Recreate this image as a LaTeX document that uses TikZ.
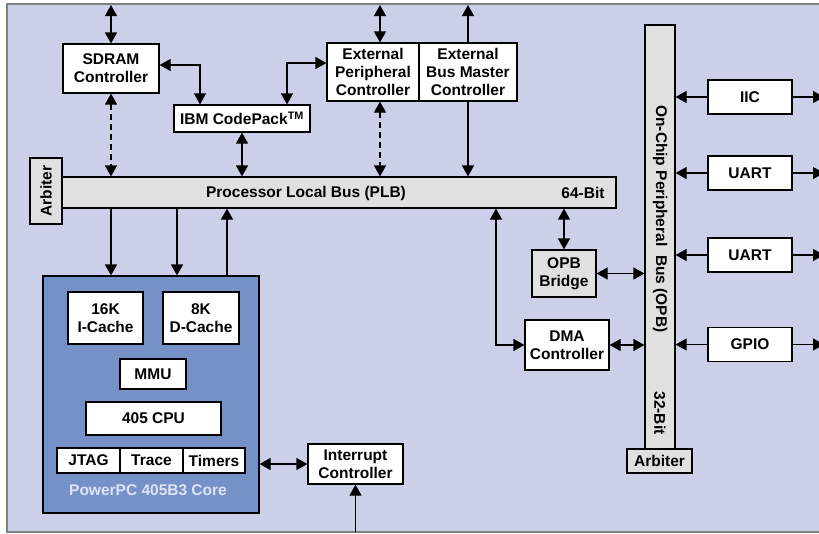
\documentclass[tikz,border=0pt]{standalone}
\usepackage{fontspec}
\setmainfont{Liberation Sans}
\usetikzlibrary{arrows.meta}
\definecolor{panel}{RGB}{203,208,232}
\definecolor{corefill}{RGB}{118,145,200}
\definecolor{busgray}{RGB}{224,224,224}
\definecolor{coretext}{RGB}{222,228,248}
\begin{document}
\begin{tikzpicture}[x=1pt, y=-1pt, line width=1.2pt,
    >={Triangle[length=11pt,width=12pt]},
    font=\fontsize{15.5}{18}\selectfont\bfseries,
    box/.style={draw, fill=white, inner sep=0pt, align=center},
    bus/.style={draw, fill=busgray, inner sep=0pt, align=center},
    dashlink/.style={dash pattern=on 6pt off 4pt}]
    \useasboundingbox (0,0) rectangle (819,533);
    \draw[gray, fill=panel] (7,4) rectangle (840,532);

    \coordinate (ptop) at (0,5);
    \coordinate (pbot) at (0,532);
    \coordinate (pright) at (824,0);

    % processor local bus
    \node[bus, minimum width=554pt, minimum height=31pt] (plb) at (339,192.5) {};
    \node (plbname) at (306,193) {Processor Local Bus (PLB)};
    \node (plbwidth) at (583,193) {64-Bit};
    \node[bus, rotate=90, minimum width=66pt, minimum height=32pt] (arbl) at (46,191) {Arbiter};

    % memory and external side
    \node[box, minimum width=96pt, minimum height=49pt] (sdram) at (111,68.5) {SDRAM\\Controller};
    \node[box, minimum width=136pt, minimum height=27pt] (codepack) at (242,118.5) {IBM CodePack\textsuperscript{TM}};
    \node[box, minimum width=92pt, minimum height=58pt] (epc) at (373,72) {External\\Peripheral\\Controller};
    \node[box, minimum width=98pt, minimum height=58pt] (ebmc) at (468,72) {External\\Bus Master\\Controller};

    % core
    \node[draw, fill=corefill, minimum width=216pt, minimum height=237pt] (core) at (151,394.5) {};
    \node[box, minimum width=75pt, minimum height=52pt] (icache) at (105.5,318) {16K\\I-Cache};
    \node[box, minimum width=76pt, minimum height=52pt] (dcache) at (201,318) {8K\\D-Cache};
    \node[box, minimum width=66pt, minimum height=30pt] (mmu) at (153,374) {MMU};
    \node[box, minimum width=135pt, minimum height=33pt] (cpu) at (153.5,418.5) {405 CPU};
    \node[box, minimum width=63pt, minimum height=25pt] (jtag) at (88.5,460.5) {JTAG};
    \node[box, minimum width=63pt, minimum height=25pt] (trace) at (151.5,460.5) {Trace};
    \node[box, minimum width=62pt, minimum height=25pt] (timers) at (214,460.5) {Timers};
    \node[text=coretext] (corename) at (148,490) {PowerPC 405B3 Core};
    \node[box, minimum width=95pt, minimum height=40pt] (intc) at (355.5,464) {Interrupt\\Controller};

    % on-chip peripheral bus
    \node[bus, minimum width=30pt, minimum height=424pt] (opb) at (660,237) {};
    \node[rotate=-90] (opbname) at (660,219) {On-Chip Peripheral\ \ Bus (OPB)};
    \node[rotate=-90] (opbwidth) at (660,413) {32-Bit};
    \node[bus, minimum width=65pt, minimum height=24pt] (arbr) at (659.5,461) {Arbiter};
    \node[bus, minimum width=64pt, minimum height=47pt] (bridge) at (564,273.5) {OPB\\Bridge};
    \node[box, minimum width=84pt, minimum height=50pt] (dma) at (567,345) {DMA\\Controller};

    \coordinate (xcp) at (200,0);
    \coordinate (xcpr) at (287,0);
    \coordinate (xepc) at (380,0);
    \coordinate (xi) at (111,0);
    \coordinate (xd) at (177,0);
    \coordinate (xu) at (227,0);
    \coordinate (xdma) at (496,0);
    \coordinate (ysd) at (0,65);
    \coordinate (yep) at (0,63);

    \draw[<->] (sdram.north) -- (sdram.north |- ptop);
    \draw[<->] (sdram.east |- ysd) -| (xcp |- codepack.north);
    \draw[<->] (xcpr |- codepack.north) |- (epc.west |- yep);
    \draw[<->] (xepc |- epc.north) -- (xepc |- ptop);
    \draw[->] (ebmc.north) -- (ebmc.north |- ptop);
    \draw[<->, dashlink] (sdram.south) -- (sdram.south |- plb.north);
    \draw[<->] (codepack.south) -- (codepack.south |- plb.north);
    \draw[<->, dashlink] (xepc |- epc.south) -- (xepc |- plb.north);
    \draw[->] (ebmc.south) -- (ebmc.south |- plb.north);

    \draw[->] (xi |- plb.south) -- (xi |- core.north);
    \draw[->] (xd |- plb.south) -- (xd |- core.north);
    \draw[->] (xu |- core.north) -- (xu |- plb.south);
    \draw[<->] (intc.west -| core.east) -- (intc.west);
    \draw[->] (intc.south |- pbot) -- (intc.south);

    \draw[<->] (bridge.north) -- (bridge.north |- plb.south);
    \draw[<->] (bridge.east) -- (bridge.east -| opb.west);
    \draw[<->] (dma.east) -- (dma.east -| opb.west);
    \draw[<->] (dma.west) -| (xdma |- plb.south);

    \foreach \n/\t/\y in {iic/IIC/97, uarta/UART/173, uartb/UART/255, gpio/GPIO/344.5} {
        \node[box, minimum width=84pt, minimum height=34pt] (\n) at (750,\y) {\t};
        \draw[->] (\n.west) -- (\n.west -| opb.east);
        \draw[->] (\n.east) -- (\n.east -| pright);
    }
\end{tikzpicture}
\end{document}
